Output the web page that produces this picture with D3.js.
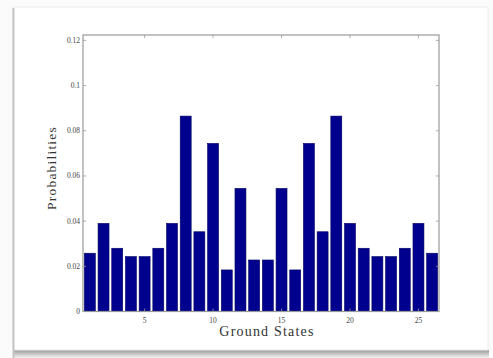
<!DOCTYPE html>
<html>
<head>
<meta charset="utf-8">
<script src="https://cdn.jsdelivr.net/npm/d3@7"></script>
<style>
  html, body { margin: 0; padding: 0; background: #fdfdfd; }
  svg { display: block; }
</style>
</head>
<body>
<svg id="chart" width="493" height="358"></svg>
<script>
// Ground-state indices and their measured probabilities
const states = d3.range(1, 27);
const probabilities = [
  0.0258, 0.0390, 0.0280, 0.0243, 0.0243, 0.0280, 0.0390, 0.0865, 0.0353,
  0.0744, 0.0184, 0.0545, 0.0228, 0.0228, 0.0545, 0.0184, 0.0744, 0.0353,
  0.0865, 0.0390, 0.0280, 0.0243, 0.0243, 0.0280, 0.0390, 0.0258
];
const xTicks = [5, 10, 15, 20, 25];
const yTicks = [0, 0.02, 0.04, 0.06, 0.08, 0.1, 0.12];
const yTickLabels = ["0", "0.02", "0.04", "0.06", "0.08", "0.1", "0.12"];

const svg = d3.select("#chart");
const W = 493, H = 358;

// Card frame with a soft shadow along the bottom edge
const defs = svg.append("defs");
const grad = defs.append("linearGradient").attr("id", "shadow")
  .attr("x1", 0).attr("y1", 0).attr("x2", 0).attr("y2", 1);
grad.append("stop").attr("offset", "0%").attr("stop-color", "#9a9a9a");
grad.append("stop").attr("offset", "100%").attr("stop-color", "#f4f4f4");

svg.append("rect").attr("x", 0).attr("y", 0).attr("width", W).attr("height", H)
  .attr("fill", "#fbfbfb");
svg.append("rect").attr("x", 13).attr("y", 350).attr("width", 476).attr("height", 8)
  .attr("fill", "url(#shadow)");
svg.append("rect").attr("x", 13).attr("y", 7).attr("width", 475).attr("height", 343)
  .attr("fill", "#ffffff").attr("stroke", "#ececec").attr("stroke-width", 1);
svg.append("line").attr("x1", 13.5).attr("x2", 13.5).attr("y1", 8).attr("y2", 358)
  .attr("stroke", "#c4c4c4").attr("stroke-width", 2);

// Plot area
const plotLeft = 83, plotRight = 439, plotTop = 35, plotBottom = 311.5;
const x = d3.scaleLinear().domain([0.5, 26.5]).range([plotLeft, plotRight]);
const y = d3.scaleLinear().domain([0, 0.1224]).range([plotBottom, plotTop]);
const barW = (x(1) - x(0)) * 0.8;

svg.append("g").selectAll("rect").data(probabilities).join("rect")
  .attr("x", (d, i) => x(states[i]) - barW / 2)
  .attr("y", d => y(d))
  .attr("width", barW)
  .attr("height", d => y(0) - y(d))
  .attr("fill", "#00008f")
  .attr("stroke", "#000060")
  .attr("stroke-width", 0.6);

// Axes box with inward ticks on all four sides
const axisColor = "#999";
svg.append("rect").attr("x", plotLeft).attr("y", plotTop)
  .attr("width", plotRight - plotLeft).attr("height", plotBottom - plotTop)
  .attr("fill", "none").attr("stroke", axisColor).attr("stroke-width", 1.2);

const tickLen = 3;
const g = svg.append("g").attr("stroke", axisColor).attr("stroke-width", 0.8);
xTicks.forEach(t => {
  g.append("line").attr("x1", x(t)).attr("x2", x(t)).attr("y1", plotBottom).attr("y2", plotBottom - tickLen);
  g.append("line").attr("x1", x(t)).attr("x2", x(t)).attr("y1", plotTop).attr("y2", plotTop + tickLen);
});
yTicks.forEach(t => {
  g.append("line").attr("x1", plotLeft).attr("x2", plotLeft + tickLen).attr("y1", y(t)).attr("y2", y(t));
  g.append("line").attr("x1", plotRight).attr("x2", plotRight - tickLen).attr("y1", y(t)).attr("y2", y(t));
});

const font = "'Liberation Serif', 'DejaVu Serif', serif";
svg.append("g").selectAll("text").data(xTicks).join("text")
  .attr("x", d => x(d)).attr("y", plotBottom + 11)
  .attr("text-anchor", "middle")
  .attr("font-family", font).attr("font-size", 7.5).attr("fill", "#444")
  .text(d => d);

svg.append("g").selectAll("text").data(yTicks).join("text")
  .attr("x", plotLeft - 3).attr("y", d => y(d) + 2.5)
  .attr("text-anchor", "end")
  .attr("font-family", font).attr("font-size", 7.5).attr("fill", "#444")
  .text((d, i) => yTickLabels[i]);

svg.append("text")
  .attr("x", 267).attr("y", 336)
  .attr("text-anchor", "middle")
  .attr("font-family", font).attr("font-size", 14).attr("letter-spacing", 1.2)
  .attr("fill", "#333")
  .text("Ground States");

svg.append("text")
  .attr("transform", "translate(56,168) rotate(-90)")
  .attr("text-anchor", "middle")
  .attr("font-family", font).attr("font-size", 13.5).attr("letter-spacing", 1.2)
  .attr("fill", "#333")
  .text("Probabilities");
</script>
</body>
</html>
